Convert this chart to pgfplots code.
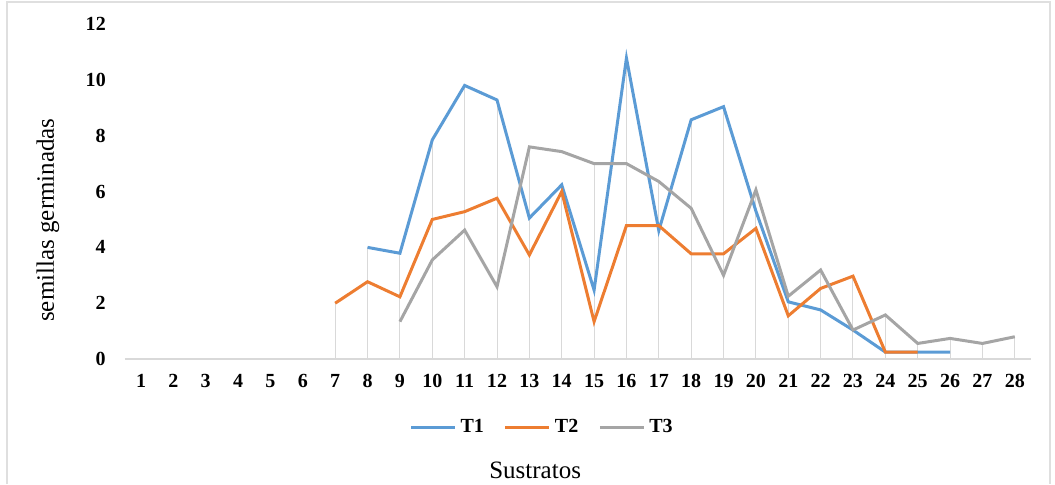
\documentclass[border=0pt]{standalone}
\usepackage{fontspec}
\setmainfont{Liberation Serif}
\usepackage{pgfplots}
\pgfplotsset{compat=1.18}

\definecolor{tone}{HTML}{5B9BD5}
\definecolor{ttwo}{HTML}{ED7D31}
\definecolor{tthree}{HTML}{A5A5A5}
\definecolor{drop}{HTML}{D9D9D9}

\begin{document}
\begin{tikzpicture}
\useasboundingbox (-62.4pt,-62.5pt) rectangle (465pt,179.5pt);
\draw[gray!25, line width=0.8pt] (-58.9pt,-62.5pt) -- (-58.9pt,178.5pt) -- (462.5pt,178.5pt) -- (462.5pt,-62.5pt);
\begin{axis}[
    at={(0,0)}, anchor=origin,
    scale only axis,
    width=453pt, height=167.5pt,
    xmin=0.5, xmax=28.5, ymin=0, ymax=12,
    xtick={1,...,28}, ytick={0,2,...,12},
    major tick length=0pt,
    axis y line*=left,
    y axis line style={draw=none},
    axis x line*=bottom,
    x axis line style={draw=drop, line width=0.6pt, -},
    /pgf/number format/assume math mode=true,
    tick label style={font=\fontsize{10}{12}\selectfont\bfseries},
    xticklabel style={yshift=-4pt},
    yticklabel style={xshift=-6pt},
    extra description/.code={
      \node[rotate=90, font=\fontsize{12.5}{14}\selectfont] at (axis description cs:-0.0848,0.415) {semillas germinadas};
      \node[font=\fontsize{12.5}{14}\selectfont] at (axis description cs:0.4528,-0.331) {Sustratos};
    },
    legend columns=3,
    legend style={at={(0.4616,-0.203)}, anchor=center, draw=none, fill=none,
      font=\fontsize{10}{12}\selectfont\bfseries,
      /tikz/every even column/.append style={column sep=8pt}},
    legend image code/.code={\draw[#1] (0pt,0pt) -- (22pt,0pt);},
]
% drop lines (max of the three series)
\addplot[drop, line width=0.5pt, ycomb, no marks, forget plot] coordinates {
(7,2.0) (8,4.0) (9,3.79) (10,7.85) (11,9.8) (12,9.28) (13,7.6) (14,6.24)
(15,7.0) (16,10.78) (17,6.36) (18,8.57) (19,9.04) (20,6.06) (21,2.25)
(22,3.19) (23,2.97) (24,1.58) (25,0.56) (26,0.74) (27,0.56) (28,0.8)};
\addplot[tone, line width=1.5pt, no marks] coordinates {
(8,4.0) (9,3.79) (10,7.85) (11,9.8) (12,9.28) (13,5.05) (14,6.24) (15,2.47)
(16,10.78) (17,4.6) (18,8.57) (19,9.04) (20,5.3) (21,2.05) (22,1.76)
(23,1.04) (24,0.25) (25,0.25) (26,0.25)};
\addlegendentry{T1}
\addplot[ttwo, line width=1.5pt, no marks] coordinates {
(7,2.0) (8,2.77) (9,2.23) (10,5.0) (11,5.28) (12,5.76) (13,3.73) (14,6.0)
(15,1.34) (16,4.78) (17,4.78) (18,3.77) (19,3.77) (20,4.68) (21,1.55)
(22,2.53) (23,2.97) (24,0.25) (25,0.25)};
\addlegendentry{T2}
\addplot[tthree, line width=1.5pt, no marks] coordinates {
(9,1.34) (10,3.55) (11,4.62) (12,2.59) (13,7.6) (14,7.43) (15,7.0) (16,7.0)
(17,6.36) (18,5.4) (19,3.0) (20,6.06) (21,2.25) (22,3.19) (23,1.04)
(24,1.58) (25,0.56) (26,0.74) (27,0.56) (28,0.8)};
\addlegendentry{T3}
\end{axis}
\end{tikzpicture}
\end{document}
